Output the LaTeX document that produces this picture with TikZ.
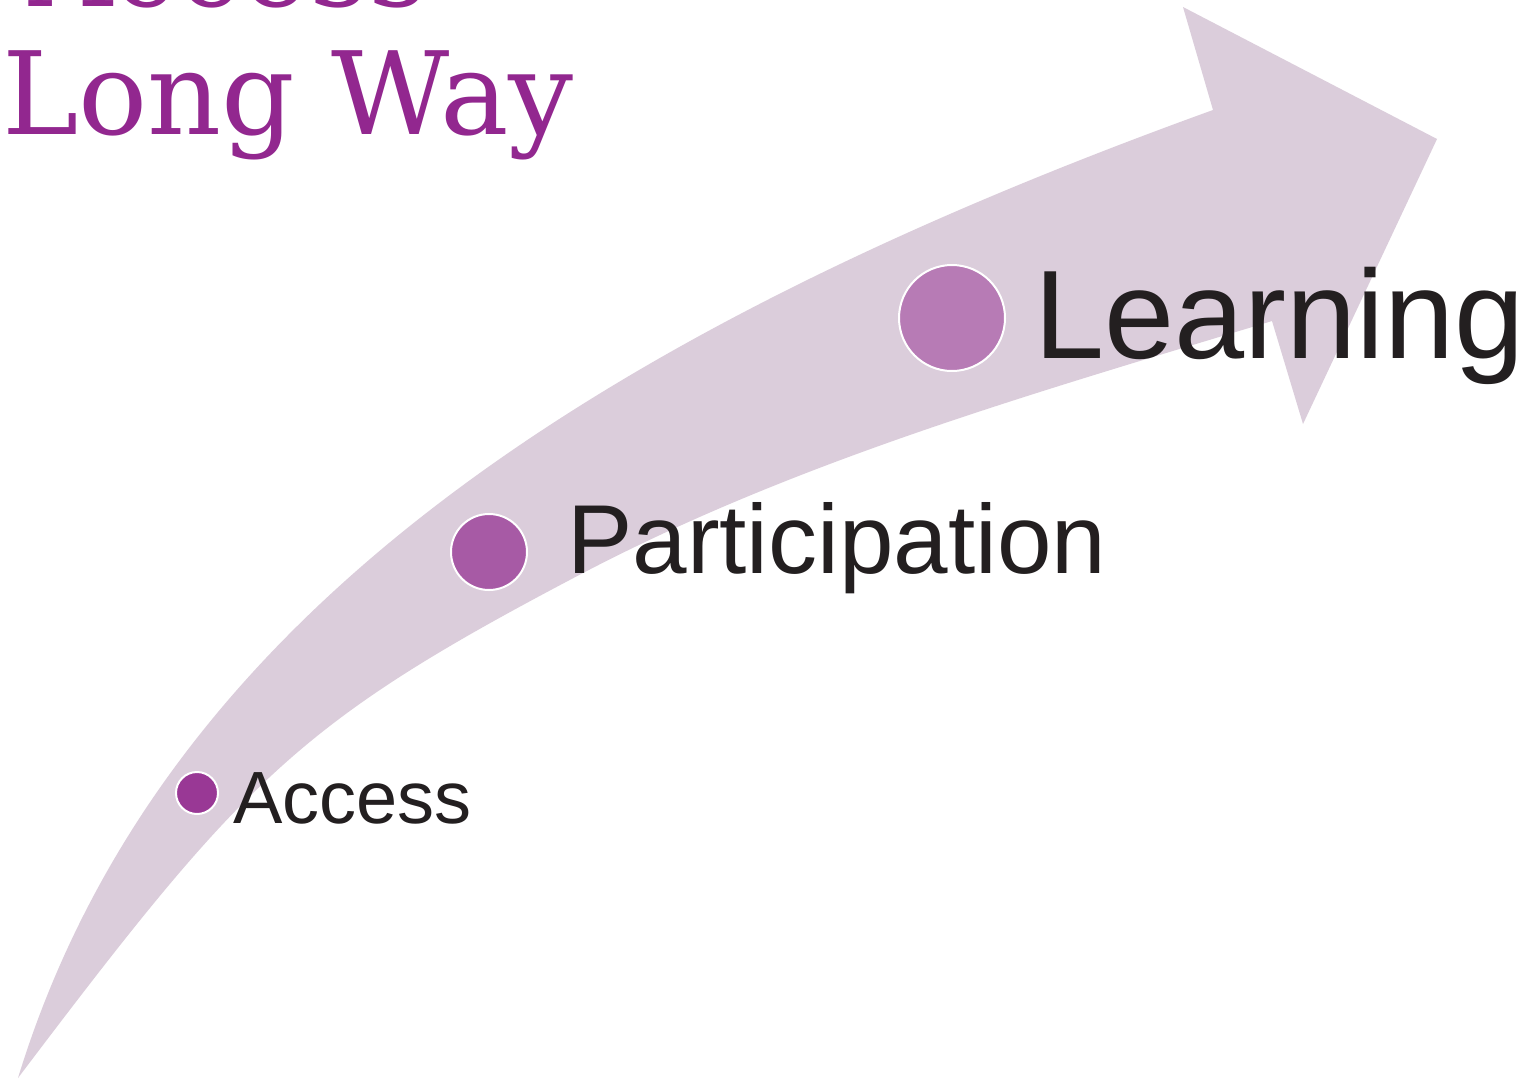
\documentclass[tikz,border=0pt]{standalone}
\usepackage{fontspec}
\setmainfont{Liberation Sans}
\newfontfamily\fuentetitulo{DejaVu Serif}
\definecolor{banda}{HTML}{DBCDDB}
\definecolor{morado_titulo}{HTML}{92278F}
\definecolor{tinta}{HTML}{231F20}
\definecolor{punto_a}{HTML}{993895}
\definecolor{punto_p}{HTML}{A75AA5}
\definecolor{punto_l}{HTML}{B77BB5}
\tikzset{
    flecha_banda/.style={fill=banda, draw=none},
    punto/.style={circle, fill=#1, draw=white, line width=2pt, inner sep=0pt},
    etiqueta/.style={anchor=base west, inner sep=0pt, text=tinta},
    titulo/.style={inner sep=0pt, text=morado_titulo, font=\fuentetitulo\fontsize{115}{124}\selectfont}
}

\begin{document}
\begin{tikzpicture}[x=1pt, y=-1pt]

    % Marco fijo de la figura
    \useasboundingbox (0,0) rectangle (1529,1080);
    \clip (0,0) rectangle (1529,1080);
    \fill[white] (0,0) rectangle (1529,1080);

    % 1. Flecha curva de fondo (borde superior, punta, borde inferior)
    \coordinate (punta_cola) at (18,1078);
    \fill[flecha_banda] (punta_cola)
        .. controls (153,638) and (557,347) .. (1213,110)
        -- (1183,7) -- (1437,139) -- (1303,424) -- (1272,321)
        .. controls (1038,392) and (799,460) .. (583,573)
        .. controls (299,722) and (247,775) .. (punta_cola)
        -- cycle;

    % 2. Titulo (la primera linea queda cortada arriba)
    \node[titulo, anchor=base east] (tit_1) at (428,6) {to Access};
    \node[titulo, anchor=base west] (tit_2) at (2,134) {Long Way};

    % 3. Puntos sobre la flecha
    \node[punto=punto_a, minimum size=42pt] (p_acceso) at (197,793) {};
    \node[punto=punto_p, minimum size=76pt] (p_particip) at (489,552) {};
    \node[punto=punto_l, minimum size=106pt] (p_aprend) at (952,318) {};

    % 4. Etiquetas de cada etapa
    \node[etiqueta, font=\fontsize{74}{80}\selectfont] (txt_acceso) at (233,823) {Access};
    \node[etiqueta, font=\fontsize{98}{104}\selectfont] (txt_particip) at (567,573) {Participation};
    \node[etiqueta, font=\fontsize{126}{132}\selectfont] (txt_aprend) at (1034,358) {Learning};

\end{tikzpicture}
\end{document}
